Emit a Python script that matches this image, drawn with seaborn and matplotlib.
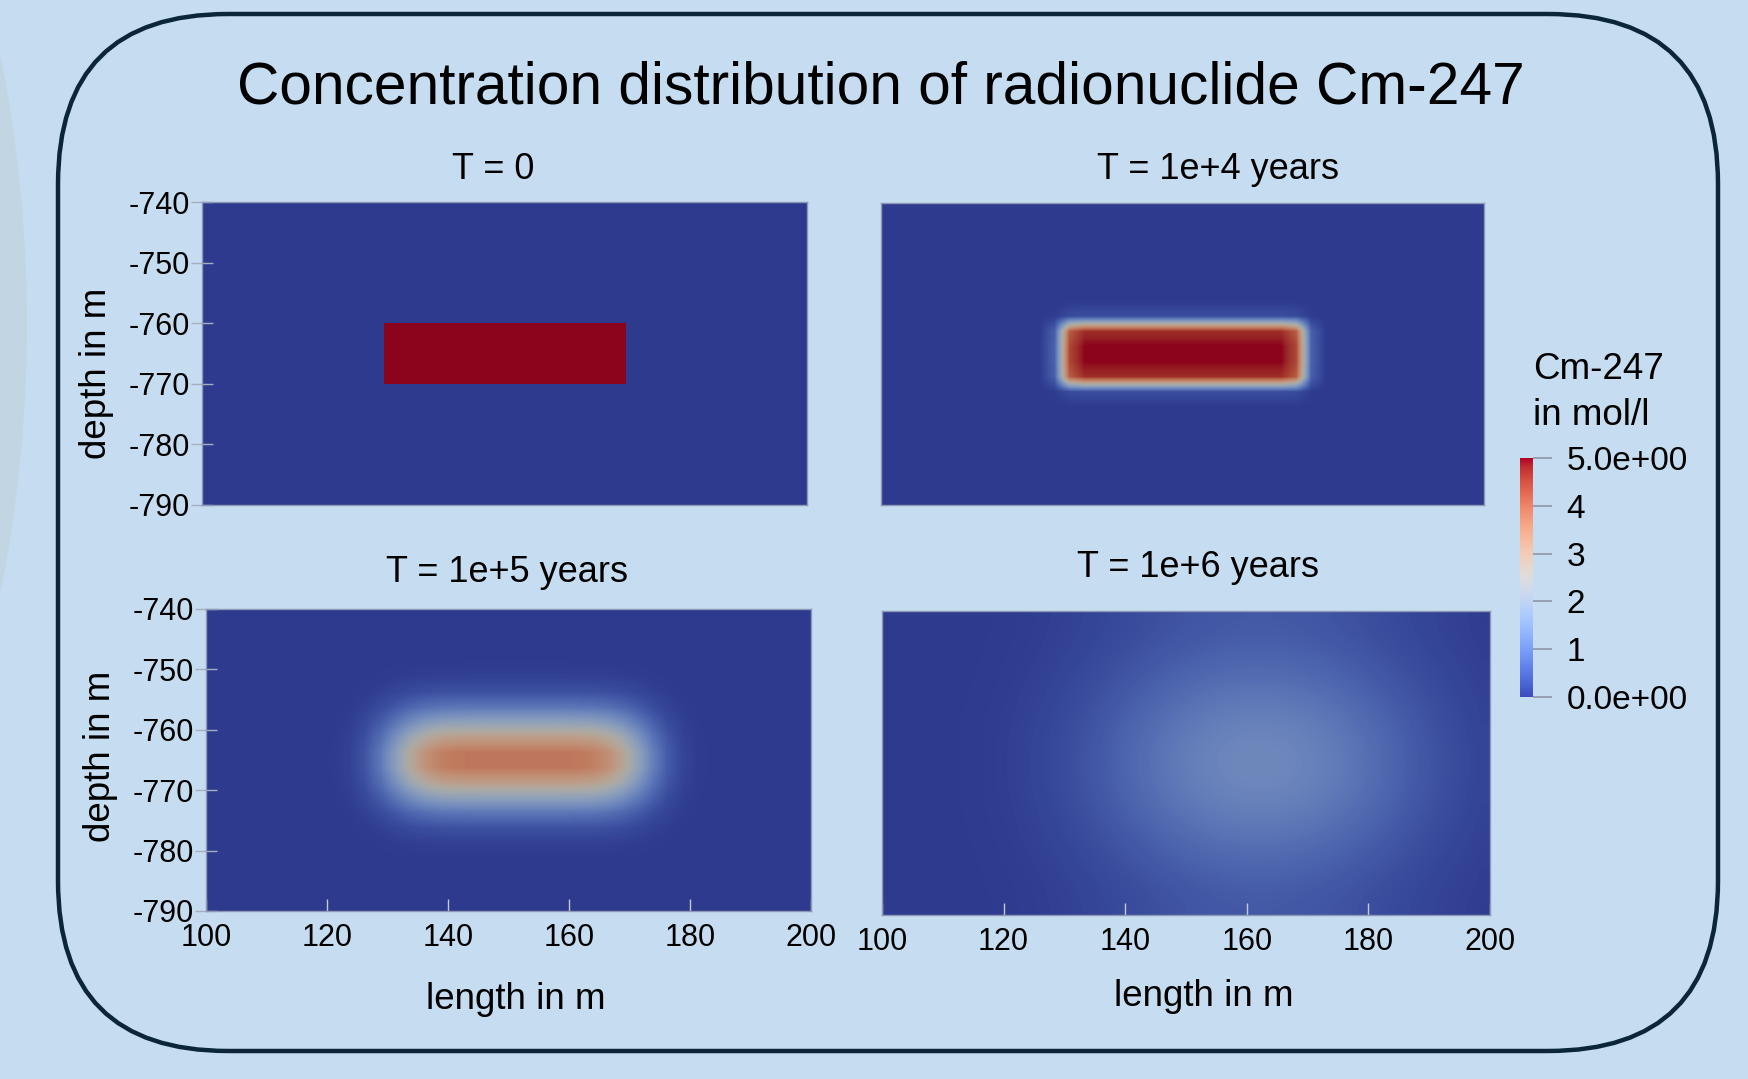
import numpy as np
import matplotlib
matplotlib.use("Agg")
import matplotlib.pyplot as plt
from matplotlib.colors import ListedColormap, Normalize
from matplotlib.cm import ScalarMappable
from matplotlib.patches import FancyBboxPatch, Circle
import seaborn as sns

W, H = 1748, 1079

# ----------------------------------------------------------------------------
# values
# field cells: 40 columns of 2.5 m (length 100..200), 20 rows of 2.5 m (depth -740..-790, top first)
# ----------------------------------------------------------------------------
c_source = 5.0
x_ticks = [100, 120, 140, 160, 180, 200]
y_ticks = [-740, -750, -760, -770, -780, -790]
cbar_ticks = [0, 1, 2, 3, 4, 5]
cbar_labels = ["0.0e+00", "1", "2", "3", "4", "5.0e+00"]
titles = ["T = 0", "T = 1e+4 years", "T = 1e+5 years", "T = 1e+6 years"]

# relative concentration along length (per column)
prof_x_t0 = [0, 0, 0, 0, 0, 0, 0, 0, 0, 0, 0, 0,
             1, 1, 1, 1, 1, 1, 1, 1, 1, 1, 1, 1, 1, 1, 1, 1,
             0, 0, 0, 0, 0, 0, 0, 0, 0, 0, 0, 0]
prof_x_t4 = [0, 0, 0, 0, 0, 0, 0, 0, 0, 0, 0.0, 0.12,
             0.88, 1, 1, 1, 1, 1, 1, 1, 1, 1, 1, 1, 1, 1, 1, 0.88,
             0.12, 0, 0, 0, 0, 0, 0, 0, 0, 0, 0, 0]
prof_x_t5 = [0, 0, 0, 0, 0, 0, 0, 0.001, 0.007, 0.032, 0.106, 0.256,
             0.476, 0.704, 0.871, 0.958, 0.990, 0.998, 1, 1, 1, 1, 1, 0.999,
             0.993, 0.968, 0.894, 0.744, 0.524, 0.296, 0.129, 0.042, 0.010, 0.002,
             0, 0, 0, 0, 0, 0]
prof_x_t6 = [0.001, 0.002, 0.004, 0.006, 0.010, 0.017, 0.026, 0.040, 0.059, 0.085,
             0.118, 0.160, 0.210, 0.268, 0.333, 0.404, 0.477, 0.550, 0.622, 0.688,
             0.746, 0.794, 0.832, 0.856, 0.867, 0.864, 0.848, 0.818, 0.776, 0.724,
             0.662, 0.593, 0.520, 0.447, 0.375, 0.306, 0.243, 0.189, 0.142, 0.104]

# relative concentration along depth (per row, top first)
prof_y_t0 = [0, 0, 0, 0, 0, 0, 0, 0, 1, 1, 1, 1, 0, 0, 0, 0, 0, 0, 0, 0]
prof_y_t4 = [0, 0, 0, 0, 0, 0, 0, 0.06, 0.94, 1, 1, 0.94, 0.06, 0, 0, 0, 0, 0, 0, 0]
prof_y_t5 = [0, 0, 0, 0.004, 0.019, 0.068, 0.186, 0.379, 0.598, 0.746,
             0.746, 0.598, 0.379, 0.186, 0.068, 0.019, 0.004, 0, 0, 0]
prof_y_t6 = [0.109, 0.118, 0.135, 0.159, 0.185, 0.214, 0.241, 0.266, 0.283, 0.292,
             0.292, 0.283, 0.266, 0.241, 0.214, 0.185, 0.159, 0.135, 0.118, 0.109]

prof_x = [prof_x_t0, prof_x_t4, prof_x_t5, prof_x_t6]
prof_y = [prof_y_t0, prof_y_t4, prof_y_t5, prof_y_t6]

# ----------------------------------------------------------------------------
sns.set_theme(style="white", rc={"text.color": "black", "axes.labelcolor": "black",
                                 "xtick.color": "black", "ytick.color": "black"})
plt.rcParams['font.family'] = ['Liberation Sans', 'DejaVu Sans']

bg = "#c6ddf1"
frame_col = "#0b2539"
tick_col = "#a7aec0"

base = np.array(sns.color_palette("coolwarm", 256))
panel_cmap = ListedColormap(base * np.array([0.78, 0.77, 0.74]))  # lit surface look
norm = Normalize(0, c_source)


def fr(x0, y0, x1, y1):
    return [x0 / W, 1 - y1 / H, (x1 - x0) / W, (y1 - y0) / H]


fig = plt.figure(figsize=(W / 100, H / 100), dpi=100, facecolor=bg)

# decoration layer in pixel units
deco = fig.add_axes([0, 0, 1, 1], zorder=-5)
deco.set_xlim(0, W)
deco.set_ylim(H, 0)
deco.axis("off")
deco.add_patch(Circle((-1349, 324), 1376, color="#c1d6e2", lw=0))
deco.add_patch(FancyBboxPatch((58, 14), 1660, 1037, boxstyle="round,pad=0,rounding_size=170",
                              fc=bg, ec=frame_col, lw=3.2))

panels = [
    dict(rect=fr(202, 202, 807, 505), interp="nearest", yl=True, xl=False,
         title=(493, 179), ylab=(97, 373)),
    dict(rect=fr(881, 203, 1484, 505), interp="bilinear", yl=False, xl=False,
         title=(1218, 179)),
    dict(rect=fr(206, 609, 811, 911), interp="bilinear", yl=True, xl=True,
         title=(507, 582), ylab=(100, 756), xlab=(516, 1009)),
    dict(rect=fr(882, 611, 1490, 915), interp="bilinear", yl=False, xl=True,
         title=(1198, 577), xlab=(1204, 1006)),
]

for i, p in enumerate(panels):
    ax = fig.add_axes(p["rect"])
    field = c_source * np.outer(prof_y[i], prof_x[i])
    ax.imshow(field, cmap=panel_cmap, norm=norm, interpolation=p["interp"],
              extent=[100, 200, -790, -740], origin="upper", aspect="auto")
    ax.set_xlim(100, 200)
    ax.set_ylim(-790, -740)
    for s in ax.spines.values():
        s.set_visible(True)
        s.set_color("#8e97b3")
        s.set_linewidth(1)
    if p["yl"]:
        ax.set_yticks(y_ticks)
        ax.set_yticklabels([str(v) for v in y_ticks])
        ax.tick_params(axis="y", direction="inout", length=16, width=1, color=tick_col,
                       labelcolor="black", labelsize=22, pad=1, left=True)
    else:
        ax.set_yticks([])
    if p["xl"]:
        ax.set_xticks(x_ticks)
        ax.set_xticklabels([str(v) for v in x_ticks])
        ax.tick_params(axis="x", direction="in", length=9, width=1, color="#c3c9d8",
                       labelcolor="black", labelsize=22, pad=9, bottom=True)
    else:
        ax.set_xticks([])
    tx, ty = p["title"]
    fig.text(tx / W, 1 - ty / H, titles[i], ha="center", va="baseline", fontsize=26,
             color="black")
    if "ylab" in p:
        lx, ly = p["ylab"]
        fig.text(lx / W, 1 - ly / H, "depth in m", rotation=90, ha="center", va="center",
                 fontsize=26.5, color="black")
    if "xlab" in p:
        lx, ly = p["xlab"]
        fig.text(lx / W, 1 - ly / H, "length in m", ha="center", va="baseline",
                 fontsize=26.5, color="black")

fig.text(881 / W, 1 - 103 / H, "Concentration distribution of radionuclide Cm-247",
         ha="center", va="baseline", fontsize=42.2, color="black")

# colour legend
cax = fig.add_axes(fr(1520, 458, 1533, 697))
cb = fig.colorbar(ScalarMappable(norm=norm, cmap="coolwarm"), cax=cax, ticks=cbar_ticks)
cb.outline.set_visible(False)
cb.set_ticklabels(cbar_labels)
cax.tick_params(axis="y", right=True, direction="out", length=14, width=1.2,
                color="#8f96a8", labelcolor="black", labelsize=24, pad=10)
fig.text(1533 / W, 1 - 379 / H, "Cm-247", ha="left", va="baseline", fontsize=26.5,
         color="black")
fig.text(1533 / W, 1 - 425 / H, "in mol/l", ha="left", va="baseline", fontsize=26.5,
         color="black")

fig.savefig("out.png", dpi=100, facecolor=bg)
